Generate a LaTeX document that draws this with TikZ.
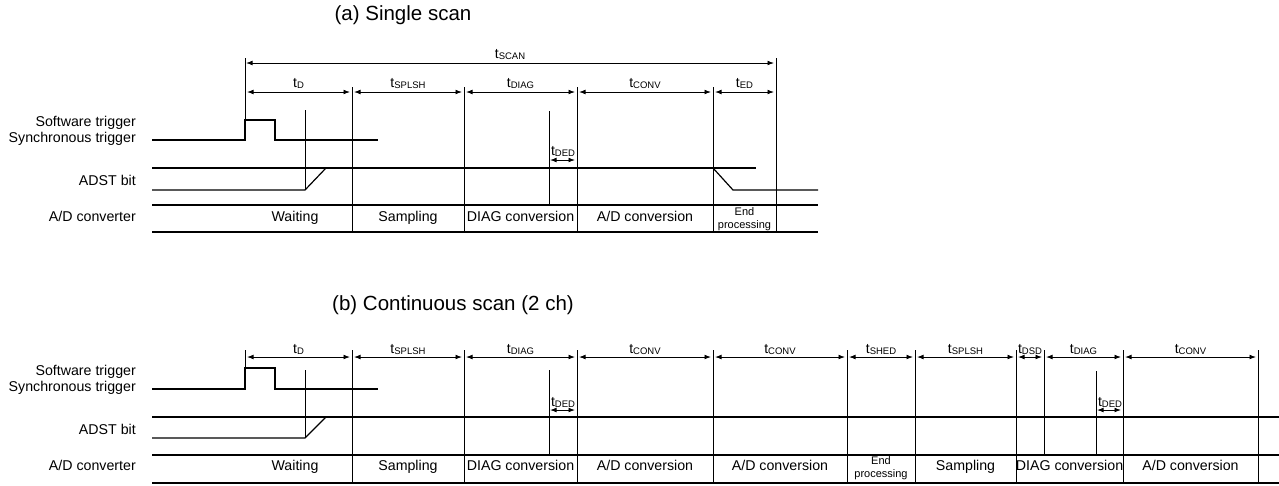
\documentclass[tikz,border=0pt]{standalone}
\usepackage{fontspec}
\setmainfont{Liberation Sans}
\usetikzlibrary{arrows.meta}
\newcommand{\tsb}[1]{{\fontsize{14}{14}\selectfont t\raisebox{-1.6pt}{\fontsize{9.5}{9.5}\selectfont #1}}}
\tikzset{
  sig/.style={line width=1.2pt},
  vl/.style={line width=0.75pt},
  dim/.style={{Latex[length=6.5pt,width=4.8pt]}-{Latex[length=6.5pt,width=4.8pt]}, line width=0.95pt},
  lbl/.style={anchor=base, inner sep=0pt},
  rowlbl/.style={anchor=mid east, inner sep=0pt, font=\fontsize{14.2}{14.2}\selectfont},
  blk/.style={anchor=mid, inner sep=0pt, font=\fontsize{14.2}{14.2}\selectfont},
  small/.style={align=center, inner sep=0pt, font=\fontsize{11}{13}\selectfont},
  ttl/.style={anchor=mid, inner sep=0pt, font=\fontsize{20.5}{20.5}\selectfont}
}
\begin{document}
\begin{tikzpicture}[x=1pt,y=-1pt]
\useasboundingbox (0,0) rectangle (1279,485);
% ================= (a) =================
\node[ttl] (ta) at (403,18) {(a) Single scan};
% tSCAN
\draw[vl] (245,58) -- (245,120);
\draw[vl] (776,58) -- (776,232);
\draw[dim] (246,63) -- (774,63);
\node[lbl] (lscan) at (510,58) {\tsb{SCAN}};
% interval arrows
\foreach \xa/\xb/\lab in {245/352/D,352/464/SPLSH,464/577/DIAG,577/713/CONV,713/776/ED}{
  \draw[dim] (\xa+2,92) -- (\xb-2,92);
  \node[lbl] at ({(\xa+\xb)/2},87) {\tsb{\lab}};
}
% vertical boundaries
\foreach \x in {352,464,577,713}{ \draw[vl] (\x,87) -- (\x,232); }
\draw[vl] (305,110) -- (305,190);
\draw[vl] (549,111) -- (549,205);
\draw[dim] (550,160) -- (575,160);
\node[lbl] at (563,155) {\tsb{DED}};
% trigger
\draw[sig] (152,140) -- (245,140) -- (245,120) -- (275,120) -- (275,140) -- (378,140);
% ADST
\draw[sig] (152,168) -- (756,168);
\draw[sig] (152,190) -- (305,190) -- (326,168);
\draw[sig] (713,168) -- (733,190) -- (818,190);
% A/D row
\draw[sig] (152,205) -- (818,205);
\draw[sig] (152,232) -- (818,232);
% row labels
\node[rowlbl] (sa1) at (136,124) {Software trigger};
\node[rowlbl] (sa2) at (136,140) {Synchronous trigger};
\node[rowlbl] (sa3) at (136,183) {ADST bit};
\node[rowlbl] (sa4) at (136,219) {A/D converter};
% blocks
\node[blk] at (295,219) {Waiting};
\node[blk] at (408,219) {Sampling};
\node[blk] at (520.5,219) {DIAG conversion};
\node[blk] at (645,219) {A/D conversion};
\node[small] at (744.5,219) {End\\processing};
% ================= (b) =================
\node[ttl] (tb) at (453,308) {(b) Continuous scan (2 ch)};
\draw[vl] (245,350) -- (245,368);
\foreach \xa/\xb/\lab in {245/352/D,352/464/SPLSH,464/577/DIAG,577/713/CONV,713/847/CONV,847/915/SHED,915/1016/SPLSH,1016/1044/DSD,1044/1123/DIAG,1123/1258/CONV}{
  \draw[dim] (\xa+2,357) -- (\xb-2,357);
  \node[lbl] at ({(\xa+\xb)/2},353) {\tsb{\lab}};
}
\foreach \x in {352,464,577,713,847,915,1016,1123,1258}{ \draw[vl] (\x,350) -- (\x,483); }
\draw[vl] (1044,350) -- (1044,455);
\draw[vl] (305,370) -- (305,438);
\draw[vl] (549,370) -- (549,455);
\draw[vl] (1096,371) -- (1096,455);
\draw[dim] (550,410) -- (575,410);
\node[lbl] at (563,406) {\tsb{DED}};
\draw[dim] (1097,410) -- (1121,410);
\node[lbl] at (1110,406) {\tsb{DED}};
% trigger
\draw[sig] (152,389) -- (245,389) -- (245,368) -- (275,368) -- (275,389) -- (378,389);
% ADST
\draw[sig] (152,417) -- (1279,417);
\draw[sig] (152,438) -- (305,438) -- (326,417);
% A/D row
\draw[sig] (152,455) -- (1279,455);
\draw[sig] (152,483) -- (1279,483);
% row labels
\node[rowlbl] (sb1) at (136,373) {Software trigger};
\node[rowlbl] (sb2) at (136,389) {Synchronous trigger};
\node[rowlbl] (sb3) at (136,432) {ADST bit};
\node[rowlbl] (sb4) at (136,468) {A/D converter};
% blocks
\node[blk] at (295,468) {Waiting};
\node[blk] at (408,468) {Sampling};
\node[blk] at (520.5,468) {DIAG conversion};
\node[blk] at (645,468) {A/D conversion};
\node[blk] at (780,468) {A/D conversion};
\node[small] at (881,468) {End\\processing};
\node[blk] at (965.5,468) {Sampling};
\node[blk] at (1069.5,468) {DIAG conversion};
\node[blk] at (1190.5,468) {A/D conversion};
\end{tikzpicture}
\end{document}
